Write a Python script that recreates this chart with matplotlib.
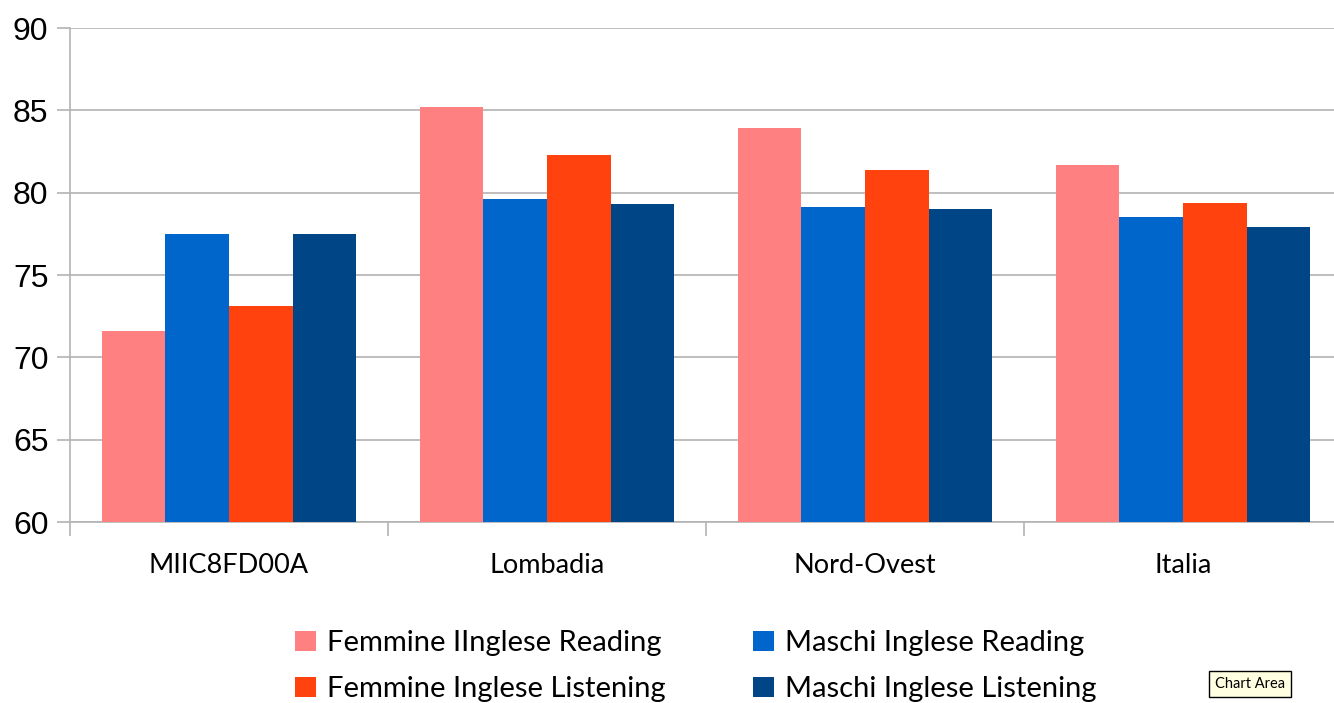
import matplotlib
matplotlib.use("Agg")
import matplotlib.pyplot as plt
import numpy as np

categories = ["MIIC8FD00A", "Lombadia", "Nord-Ovest", "Italia"]
series_names = ["Femmine IInglese Reading", "Maschi Inglese Reading",
                "Femmine Inglese Listening", "Maschi Inglese Listening"]
femmine_reading = [71.6, 85.2, 83.9, 81.7]
maschi_reading = [77.5, 79.6, 79.1, 78.5]
femmine_listening = [73.1, 82.3, 81.4, 79.4]
maschi_listening = [77.5, 79.3, 79.0, 77.9]
colors = ["#ff8080", "#0066cc", "#ff420e", "#004586"]
yticks = [60, 65, 70, 75, 80, 85, 90]

W, H = 1334, 703
fig = plt.figure(figsize=(W / 100, H / 100), dpi=100)
ax = fig.add_axes([70 / W, 1 - 522 / H, 1272 / W, (522 - 28) / H])

data = [femmine_reading, maschi_reading, femmine_listening, maschi_listening]
x = np.arange(len(categories))
bw = 0.2
handles = []
for i, (vals, c, name) in enumerate(zip(data, colors, series_names)):
    b = ax.bar(x - 0.3 + i * bw, np.array(vals) - 60, bottom=60, width=bw,
               color=c, label=name, zorder=3)
    handles.append(b)

ax.set_xlim(-0.5, 3.5)
ax.set_ylim(60, 90)
ax.set_yticks(yticks)
ax.set_yticklabels([str(t) for t in yticks], fontsize=23, family="Liberation Sans")
ax.yaxis.grid(True, color="#b3b3b3", linewidth=1.2, zorder=0)
ax.tick_params(axis="y", length=9.5, width=1.2, color="#b3b3b3", pad=6)

ax.set_xticks(np.arange(-0.5, 4.0, 1.0))
ax.set_xticklabels([])
ax.set_xticks(x, minor=True)
ax.set_xticklabels(categories, minor=True, fontsize=19.5, family="Lato")
ax.tick_params(axis="x", which="major", length=10, width=1.2, color="#b3b3b3")
ax.tick_params(axis="x", which="minor", length=0, pad=22)

for s in ["top", "right"]:
    ax.spines[s].set_visible(False)
for s in ["left", "bottom"]:
    ax.spines[s].set_color("#b3b3b3")
    ax.spines[s].set_linewidth(1.2)

order = [0, 2, 1, 3]
leg = fig.legend([handles[i] for i in order], [series_names[i] for i in order],
                 ncol=2, loc="center", bbox_to_anchor=(696 / W, 1 - 666 / H),
                 frameon=False, prop={"family": "Lato", "size": 21},
                 handlelength=0.7, handleheight=0.7, handletextpad=0.4,
                 columnspacing=3.0, labelspacing=0.68)

fig.text(1250 / W, 1 - 684 / H, "Chart Area", fontsize=10.5, family="Lato",
         ha="center", va="center",
         bbox=dict(boxstyle="square,pad=0.4", facecolor="#ffffe1",
                   edgecolor="black", linewidth=1))

fig.savefig("out.png", dpi=100)
